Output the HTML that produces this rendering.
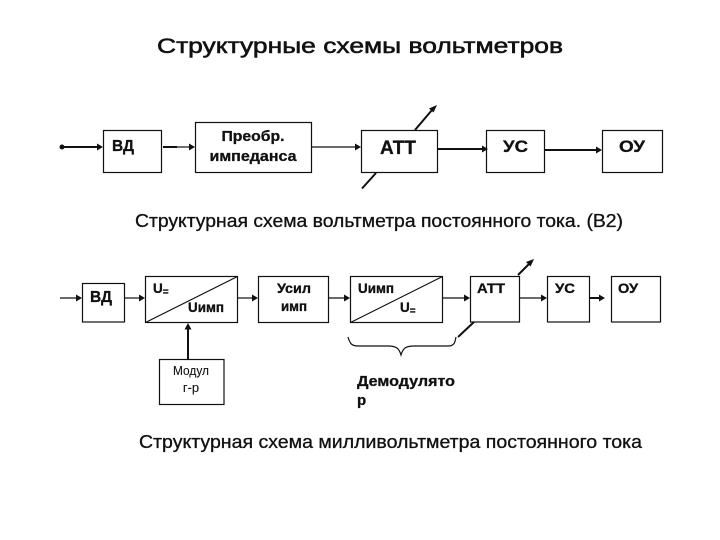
<!DOCTYPE html>
<html><head><meta charset="utf-8">
<style>
html,body{margin:0;padding:0;background:#fff;width:720px;height:540px;overflow:hidden}
svg{display:block}
text{font-family:"Liberation Sans",sans-serif;fill:#111;stroke:#111;stroke-width:.3}
.b{font-weight:bold}
rect{fill:#fff;stroke:#111;stroke-width:1.2}
line,path.l{stroke:#111;stroke-width:1.2;fill:none}
.t{stroke-width:2}
.h{fill:#111;stroke:none}
</style></head><body>
<svg width="720" height="540" viewBox="0 0 720 540" xmlns="http://www.w3.org/2000/svg">
<text x="157" y="53" font-size="21" textLength="406" lengthAdjust="spacingAndGlyphs" style="stroke-width:.55">Структурные схемы вольтметров</text>

<!-- top row -->
<rect x="103.5" y="130.5" width="58" height="42"/>
<rect x="195.5" y="122.5" width="116" height="50"/>
<rect x="361.5" y="130.5" width="76" height="42"/>
<rect x="486.5" y="130.5" width="58" height="42"/>
<rect x="602.5" y="130.5" width="60" height="42"/>

<circle cx="62" cy="147" r="2.5" class="h"/>
<line x1="62" y1="147" x2="100" y2="147" class="t"/><path class="h" d="M103 147l-6-3.5v7z"/>
<line x1="163" y1="147" x2="177" y2="147" class="t"/><line x1="177" y1="147" x2="192" y2="147"/><path class="h" d="M195 147l-6-3.5v7z"/>
<line x1="312" y1="147" x2="358" y2="147"/><path class="h" d="M361 147l-6-3.5v7z"/>
<line x1="438" y1="149" x2="483" y2="149" class="t"/><path class="h" d="M488 149l-6-3.5v7z"/>
<line x1="544" y1="150" x2="599" y2="150" class="t"/><path class="h" d="M602 150l-6-3.5v7z"/>
<line x1="415" y1="130" x2="432" y2="110" class="t"/><path class="h" d="M437 105l-8 3.5 4.5 4z"/>
<line x1="376" y1="173" x2="362" y2="188.500" class="t"/>

<text class="b" x="112" y="151" font-size="15.5" textLength="22" lengthAdjust="spacingAndGlyphs">ВД</text>
<text class="b" x="253" y="141" font-size="14.5" text-anchor="middle" textLength="63" lengthAdjust="spacingAndGlyphs">Преобр.</text>
<text class="b" x="253" y="161" font-size="14.5" text-anchor="middle" textLength="87" lengthAdjust="spacingAndGlyphs">импеданса</text>
<text class="b" x="380" y="154" font-size="19" textLength="36" lengthAdjust="spacingAndGlyphs">АТТ</text>
<text class="b" x="503" y="152" font-size="17" textLength="25" lengthAdjust="spacingAndGlyphs">УС</text>
<text class="b" x="619" y="152" font-size="17" textLength="26" lengthAdjust="spacingAndGlyphs">ОУ</text>

<text x="135" y="227" font-size="18" textLength="488" lengthAdjust="spacingAndGlyphs">Структурная схема вольтметра постоянного тока. (В2)</text>

<!-- bottom row -->
<rect x="82.5" y="283.500" width="42" height="38.500"/>
<rect x="145.500" y="276.500" width="92" height="46"/>
<rect x="258.500" y="276.500" width="70" height="46"/>
<rect x="159.500" y="359.500" width="64.500" height="45"/>
<rect x="350.500" y="276.500" width="92" height="46"/>
<rect x="470.500" y="276.500" width="49" height="45.500"/>
<rect x="547.500" y="276.500" width="42" height="45.500"/>
<rect x="611.500" y="276.500" width="49" height="45.500"/>

<line x1="145.500" y1="322.500" x2="237.500" y2="276.500"/>
<line x1="350.500" y1="322.500" x2="442.500" y2="276.500"/>

<line x1="60" y1="298" x2="78" y2="298"/><path class="h" d="M82 298l-6-3.500v7z"/>
<line x1="125" y1="298" x2="141" y2="298"/><path class="h" d="M145 298l-6-3.500v7z"/>
<line x1="238" y1="298" x2="254" y2="298"/><path class="h" d="M258 298l-6-3.500v7z"/>
<line x1="329" y1="298" x2="346" y2="298"/><path class="h" d="M350 298l-6-3.500v7z"/>
<line x1="443" y1="298" x2="466" y2="298"/><path class="h" d="M470 298l-6-3.500v7z"/>
<line x1="520" y1="298" x2="543" y2="298"/><path class="h" d="M547 298l-6-3.500v7z"/>
<line x1="590" y1="298" x2="601" y2="298" class="t"/><path class="h" d="M605 298l-6-3.500v7z"/>
<line x1="188" y1="359" x2="188" y2="328" class="t"/><path class="h" d="M188 323l-3.500 6.500h7z"/>
<line x1="518" y1="275" x2="530" y2="263" class="t"/><path class="h" d="M534 259l-8 3 4.500 4.500z"/>
<line x1="474" y1="322" x2="458" y2="337" class="t"/>
<path class="l" d="M348 337c2 7 4 9 10 9h30c8 0 11 2 13 9c2-7 5-9 13-9h34c6 0 7-3 8-9"/>

<text class="b" x="90" y="302" font-size="16" textLength="22" lengthAdjust="spacingAndGlyphs">ВД</text>
<text class="b" x="153" y="293" font-size="13.5">U<tspan dy="2" font-size="10">=</tspan></text>
<text class="b" x="188" y="312" font-size="13.5" textLength="36" lengthAdjust="spacingAndGlyphs">Uимп</text>
<text class="b" x="294" y="293" font-size="13.5" text-anchor="middle" textLength="34" lengthAdjust="spacingAndGlyphs">Усил</text>
<text class="b" x="294" y="311" font-size="13.5" text-anchor="middle" textLength="26" lengthAdjust="spacingAndGlyphs">имп</text>
<text x="191" y="375" font-size="13" text-anchor="middle" textLength="36" lengthAdjust="spacingAndGlyphs" style="stroke-width:.1">Модул</text>
<text x="191" y="392" font-size="13" text-anchor="middle" style="stroke-width:.1">г-р</text>
<text class="b" x="358" y="293" font-size="13.5" textLength="36" lengthAdjust="spacingAndGlyphs">Uимп</text>
<text class="b" x="400" y="312" font-size="13.5">U<tspan dy="2" font-size="10">=</tspan></text>
<text class="b" x="477" y="293" font-size="14" textLength="28" lengthAdjust="spacingAndGlyphs">АТТ</text>
<text class="b" x="555" y="293" font-size="14" textLength="20" lengthAdjust="spacingAndGlyphs">УС</text>
<text class="b" x="618" y="293" font-size="14" textLength="20" lengthAdjust="spacingAndGlyphs">ОУ</text>

<text class="b" x="357" y="386" font-size="15" textLength="98" lengthAdjust="spacingAndGlyphs">Демодулято</text>
<text class="b" x="357" y="405" font-size="15">р</text>

<text x="139" y="448" font-size="18" textLength="503" lengthAdjust="spacingAndGlyphs">Структурная схема милливольтметра постоянного тока</text>
</svg>
</body></html>
